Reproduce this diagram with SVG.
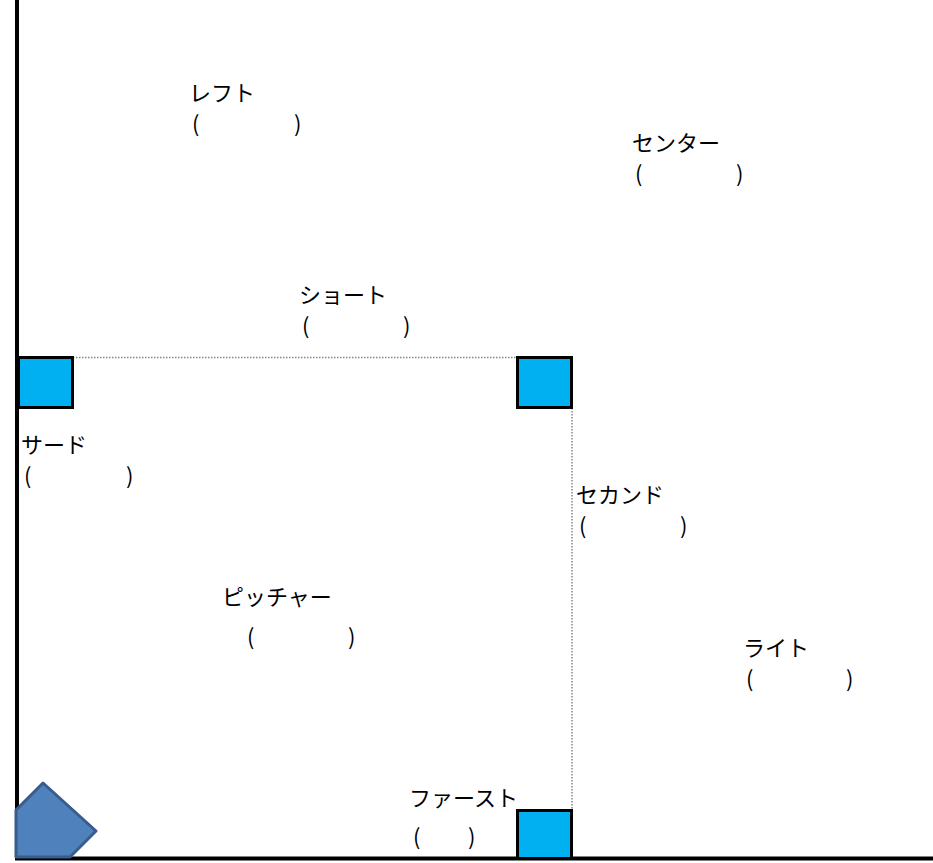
<svg xmlns="http://www.w3.org/2000/svg" width="933" height="863" viewBox="0 0 933 863">
<style>
text{font-family:"Noto Sans CJK JP","Liberation Sans",sans-serif;font-size:22px;fill:#000}
.base{fill:#00B0F0;stroke:#000;stroke-width:3}
.dot{stroke:#888;stroke-width:1.5;stroke-dasharray:1.5 1.5;fill:none}
.wall{stroke:#000;stroke-width:4;fill:none}
</style>
<rect width="933" height="863" fill="#fff"/>
<g id="connectors">
<line class="dot" x1="73" y1="357.5" x2="517" y2="357.5"/>
<line class="dot" x1="572" y1="408" x2="572" y2="810"/>
</g>
<g id="walls">
<line class="wall" x1="17" y1="0" x2="17" y2="860"/>
<line class="wall" x1="15" y1="858.5" x2="933" y2="858.5"/>
</g>
<g id="third-base"><rect class="base" x="18.5" y="357.5" width="54" height="50"/></g>
<g id="second-base"><rect class="base" x="517.5" y="357.5" width="54" height="50"/></g>
<g id="first-base"><rect class="base" x="517.5" y="810.5" width="54" height="48"/></g>
<g id="home-plate"><polygon points="16,810 43,783 96,831 70,857 16,857" fill="#4F81BD" stroke="#385D8A" stroke-width="3" stroke-linejoin="round"/></g>
<g id="left"><text x="189" y="101">レフト</text><text y="132"><tspan x="192">(</tspan><tspan x="294">)</tspan></text></g>
<g id="center"><text x="632" y="151">センター</text><text y="182"><tspan x="635">(</tspan><tspan x="736">)</tspan></text></g>
<g id="short"><text x="299" y="303">ショート</text><text y="334"><tspan x="302">(</tspan><tspan x="403">)</tspan></text></g>
<g id="third"><text x="21" y="453">サード</text><text y="484"><tspan x="24">(</tspan><tspan x="126">)</tspan></text></g>
<g id="second"><text x="576" y="503">セカンド</text><text y="534"><tspan x="579">(</tspan><tspan x="680">)</tspan></text></g>
<g id="pitcher"><text x="222" y="605">ピッチャー</text><text y="645"><tspan x="247">(</tspan><tspan x="348">)</tspan></text></g>
<g id="right"><text x="743" y="656">ライト</text><text y="687"><tspan x="746">(</tspan><tspan x="846">)</tspan></text></g>
<g id="first"><text x="409" y="806">ファースト</text><text y="845"><tspan x="413">(</tspan><tspan x="468">)</tspan></text></g>
</svg>
